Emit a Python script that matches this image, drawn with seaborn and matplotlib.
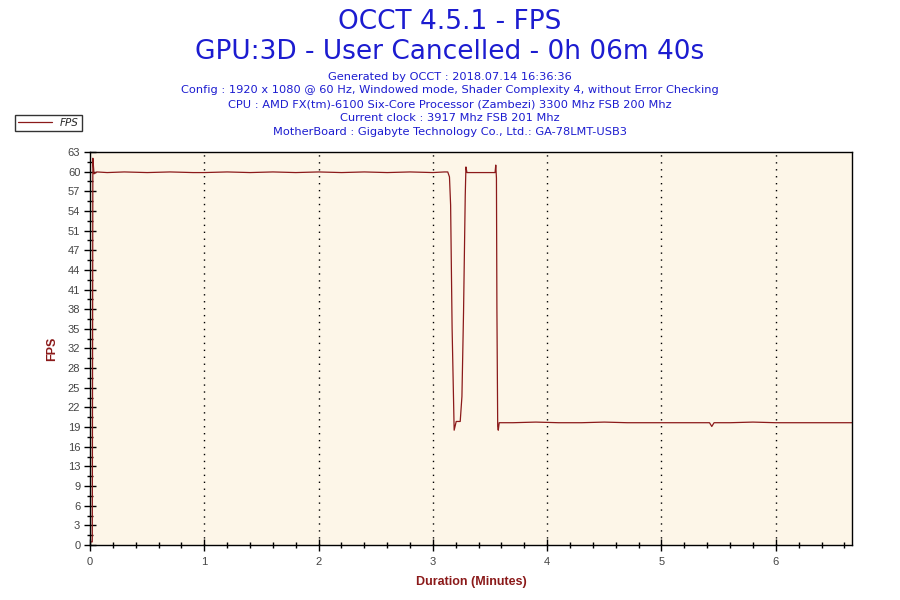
import pandas as pd
import matplotlib.pyplot as plt
import seaborn as sns
from matplotlib.ticker import MultipleLocator, FixedLocator, FixedFormatter

sns.set_theme(style="ticks")
plt.rcParams["font.family"] = ["DejaVu Sans"]

## DATA
minutes = [0.000, 0.020, 0.025, 0.035, 0.060, 0.150, 0.300, 0.500, 0.700, 0.900,
           1.000, 1.200, 1.400, 1.600, 1.800, 2.000, 2.200, 2.400, 2.600, 2.800,
           3.000, 3.100, 3.130, 3.145, 3.155, 3.168, 3.186, 3.204, 3.239, 3.254,
           3.268, 3.283, 3.289, 3.298, 3.400, 3.500, 3.544, 3.550, 3.556, 3.560,
           3.567, 3.572, 3.580, 3.700, 3.900, 4.100, 4.300, 4.500, 4.700, 4.900,
           5.100, 5.300, 5.420, 5.440, 5.460, 5.600, 5.800, 6.000, 6.200, 6.400,
           6.667]
fps = [0.5, 0.5, 62.0, 59.5, 59.8, 59.7, 59.8, 59.7, 59.8, 59.7,
       59.7, 59.8, 59.7, 59.8, 59.7, 59.8, 59.7, 59.8, 59.7, 59.8,
       59.7, 59.8, 59.8, 59.0, 54.5, 34.8, 18.4, 19.8, 19.8, 23.8,
       37.2, 56.0, 60.6, 59.7, 59.7, 59.7, 59.7, 60.9, 58.8, 38.0,
       19.0, 18.4, 19.6, 19.6, 19.7, 19.6, 19.6, 19.7, 19.6, 19.6,
       19.6, 19.6, 19.6, 19.0, 19.6, 19.6, 19.7, 19.6, 19.6, 19.6,
       19.6]

# y axis: 20 equal steps up to 63, labels rounded as OCCT prints them
y_max = 63
y_steps = 20
y_labels = ["0", "3", "6", "9", "13", "16", "19", "22", "25", "28", "32",
            "35", "38", "41", "44", "47", "51", "54", "57", "60", "63"]

df = pd.DataFrame({"Duration": minutes, "FPS": fps})

header = [
    "Generated by OCCT : 2018.07.14 16:36:36",
    "Config : 1920 x 1080 @ 60 Hz, Windowed mode, Shader Complexity 4, without Error Checking",
    "CPU : AMD FX(tm)-6100 Six-Core Processor (Zambezi) 3300 Mhz FSB 200 Mhz",
    "Current clock : 3917 Mhz FSB 201 Mhz",
    "MotherBoard : Gigabyte Technology Co., Ltd.: GA-78LMT-USB3",
]

LINE = "#8b1a1a"
BLUE = "#1c1cd0"

## PLOT
fig = plt.figure(figsize=(9, 6), dpi=100)
ax = fig.add_axes([0.1, 0.0917, 0.8467, 0.655])
ax.set_facecolor("#fdf6e8")

sns.lineplot(data=df, x="Duration", y="FPS", ax=ax, color=LINE, linewidth=0.9,
             label="FPS", legend=False)

step = y_max / y_steps
ax.set_xlim(0, 6.667)
ax.set_ylim(0, y_max)
ax.xaxis.set_major_locator(MultipleLocator(1))
ax.xaxis.set_minor_locator(MultipleLocator(0.2))
ax.yaxis.set_major_locator(FixedLocator([i * step for i in range(y_steps + 1)]))
ax.yaxis.set_major_formatter(FixedFormatter(y_labels))
ax.yaxis.set_minor_locator(FixedLocator([(i + 0.5) * step for i in range(y_steps)]))
ax.tick_params(which="major", direction="inout", length=8, width=1, color="black",
               labelsize=7.5, labelcolor="#444444")
ax.tick_params(which="minor", direction="inout", length=5, width=1, color="black")
ax.tick_params(axis="x", pad=5)
ax.tick_params(axis="y", pad=3)
for lab in ax.get_xticklabels() + ax.get_yticklabels():
    lab.set_family("Liberation Sans")
    lab.set_fontsize(8)
for s in ax.spines.values():
    s.set_color("black")
    s.set_linewidth(1)

ax.grid(False)
for xv in range(1, 7):
    ax.axvline(xv, color="black", linestyle=(0, (1, 4)), linewidth=1)

ax.set_xlabel("Duration (Minutes)", color=LINE, fontsize=9, fontweight="bold",
              family="Liberation Sans", labelpad=6)
ax.set_ylabel("FPS", color=LINE, fontsize=9, fontweight="bold",
              family="Liberation Sans", labelpad=7)

fig.text(0.5, 0.963, "OCCT 4.5.1 - FPS", ha="center", va="center", color=BLUE, fontsize=19)
fig.text(0.5, 0.914, "GPU:3D - User Cancelled - 0h 06m 40s", ha="center", va="center",
         color=BLUE, fontsize=19)
for i, line in enumerate(header):
    fig.text(0.5, 0.872 - i * 0.0228, line, ha="center", va="center", color=BLUE, fontsize=8.2)

leg = fig.legend(loc="upper left", bbox_to_anchor=(0.011, 0.817), frameon=True, fancybox=False,
                 prop={"style": "italic", "size": 7.5}, handlelength=3.2, borderpad=0.3)
leg.get_frame().set_edgecolor("black")
leg.get_frame().set_linewidth(1)

fig.savefig("out.png", dpi=100)
